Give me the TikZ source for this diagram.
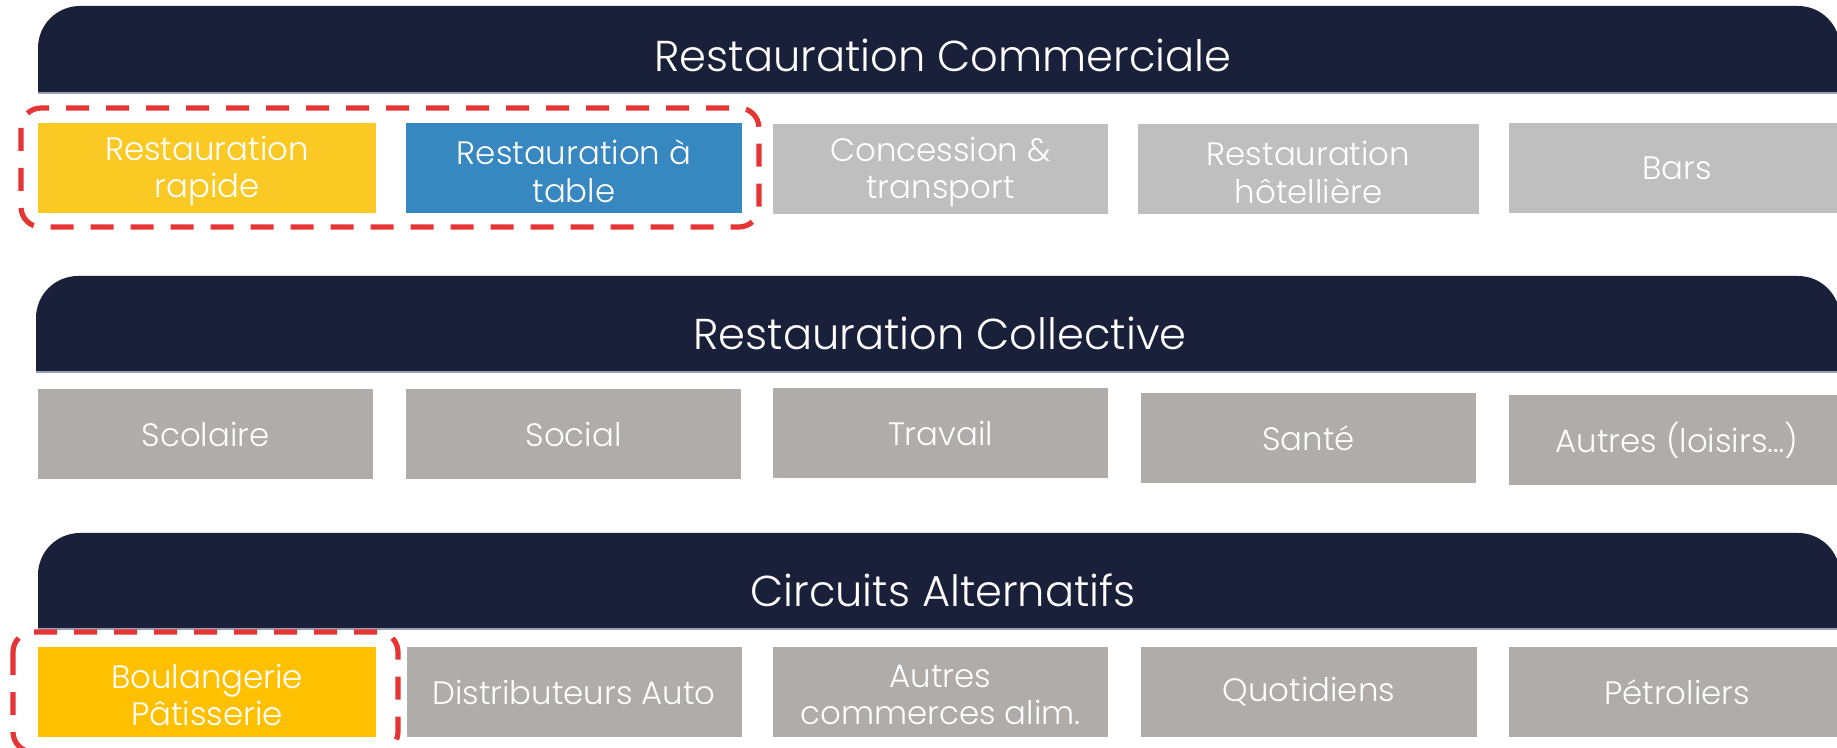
\documentclass[tikz,border=0pt]{standalone}
\usepackage{fontspec}
\setmainfont{Poppins}[UprightFont={* Light}]
\definecolor{navy}{HTML}{1A203A}
\definecolor{bandline}{HTML}{9AA2B2}
\definecolor{yel}{HTML}{FBC924}
\definecolor{yel2}{HTML}{FFC000}
\definecolor{blu}{HTML}{3787C0}
\definecolor{gryA}{HTML}{BFBFBF}
\definecolor{gryB}{HTML}{AFACAA}
\definecolor{selred}{HTML}{E53535}
\begin{document}
\begin{tikzpicture}[x=0.5pt,y=-0.5pt,
  title/.style={text=white, inner sep=0pt, font=\fontsize{21.6}{26}\selectfont},
  cell/.style={inner sep=0pt, text=white, align=center, minimum height=45pt,
    font=\fontsize{16.2}{18.8}\selectfont},
  twoline/.style={text depth=0pt},
  sel/.style={draw=selred, line width=2.6pt, dash pattern=on 11.5pt off 8.5pt, rounded corners=10pt}]
\useasboundingbox (0,0) rectangle (1837,748);
\fill[white] (0,0) rectangle (1837,748);
% bands
\begin{scope}
\clip (0,0) rectangle (1837,93);
\fill[navy, rounded corners=21pt] (38,6) rectangle (1840,160);
\end{scope}
\draw[bandline, line width=0.6pt] (38,93) -- (1840,93);
\begin{scope}
\clip (0,260) rectangle (1837,372);
\fill[navy, rounded corners=21pt] (36,276) rectangle (1840,440);
\end{scope}
\draw[bandline, line width=0.6pt] (36,372) -- (1840,372);
\begin{scope}
\clip (0,520) rectangle (1837,629);
\fill[navy, rounded corners=21pt] (38,533) rectangle (1840,700);
\end{scope}
\draw[bandline, line width=0.6pt] (38,629) -- (1840,629);
\node[title] (t1) at (943,55) {Restauration Commerciale};
\node[title] (t2) at (940,333) {Restauration Collective};
\node[title] (t3) at (943,590) {Circuits Alternatifs};
% row 1
\node[cell, fill=yel, minimum width=169pt] (r1) at (207,168) {};
\node[cell] at ([yshift=-1.5pt]r1.center) {Restauration\\rapide};
\node[cell, fill=blu, minimum width=168pt] (r2) at (574,168) {};
\node[cell] at ([yshift=-1.5pt]r2.center) {Restauration à\\table};
\node[cell, fill=gryA, minimum width=167.5pt] (r3) at (940.5,169) {};
\node[cell] at ([yshift=-1.5pt]r3.center) {Concession \&\\transport};
\node[cell, fill=gryA, minimum width=170.5pt] (r4) at (1308.5,169.5) {};
\node[cell] at ([yshift=-1.5pt]r4.center) {Restauration\\hôtellière};
\node[cell, fill=gryA, minimum width=168pt] (r5) at (1677,168) {Bars};
% row 2
\node[cell, fill=gryB, minimum width=167.5pt] (c1) at (205.5,434) {Scolaire};
\node[cell, fill=gryB, minimum width=167.5pt] (c2) at (573.5,434) {Social};
\node[cell, fill=gryB, minimum width=167.5pt] (c3) at (940.5,433.5) {Travail};
\node[cell, fill=gryB, minimum width=167.5pt] (c4) at (1308.5,438) {Santé};
\node[cell, fill=gryB, minimum width=168pt] (c5) at (1677,440) {Autres (loisirs…)};
% row 3
\node[cell, fill=yel2, minimum width=169pt] (a1) at (207,692) {};
\node[cell] at ([yshift=-1.5pt]a1.center) {Boulangerie\\Pâtisserie};
\node[cell, fill=gryB, minimum width=167.5pt] (a2) at (574,692) {Distributeurs Auto};
\node[cell, fill=gryB, minimum width=167.5pt] (a3) at (940.5,692) {};
\node[cell] at ([yshift=-1.5pt]a3.center) {Autres\\commerces alim.};
\node[cell, fill=gryB, minimum width=168pt] (a4) at (1309,691.5) {Quotidiens};
\node[cell, fill=gryB, minimum width=168pt] (a5) at (1677,692) {Pétroliers};
% selections
\draw[sel] (21,108) rectangle (759,227);
\draw[sel] (13,632) rectangle (398,752);
\end{tikzpicture}
\end{document}
